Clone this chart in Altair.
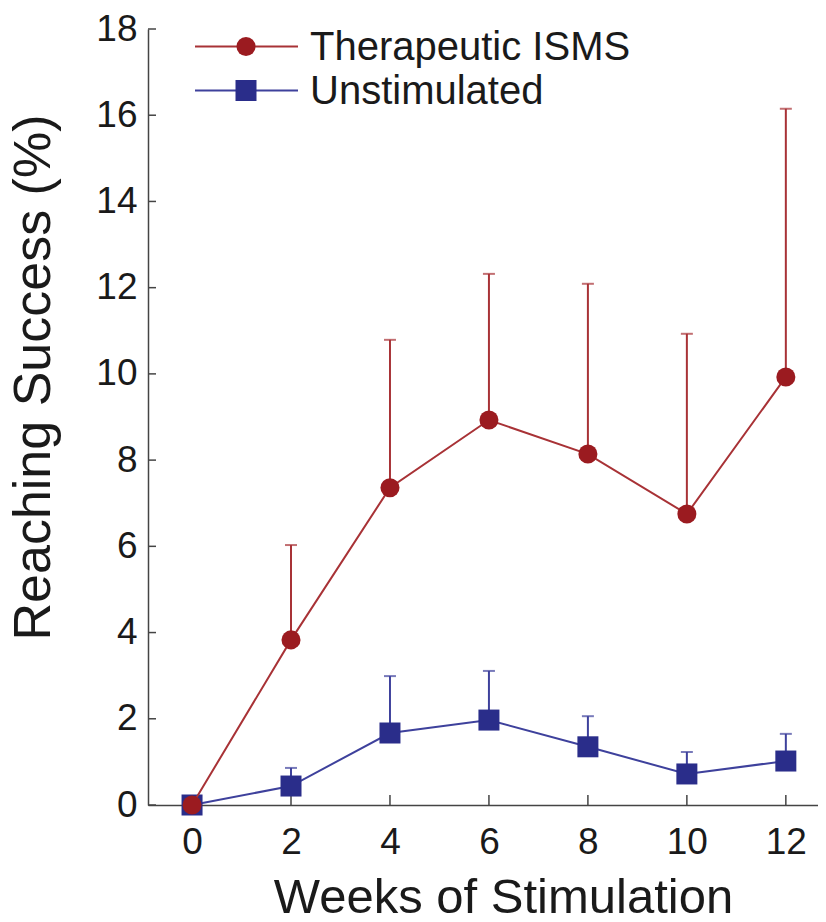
import altair as alt
import pandas as pd

weeks = [0, 2, 4, 6, 8, 10, 12]
isms_mean = [0.0, 3.83, 7.36, 8.93, 8.14, 6.75, 9.93]
isms_upper = [0.0, 6.03, 10.79, 12.32, 12.09, 10.93, 16.15]
unstim_mean = [0.0, 0.44, 1.67, 1.97, 1.35, 0.72, 1.02]
unstim_upper = [0.0, 0.86, 2.99, 3.11, 2.06, 1.23, 1.65]
x_ticks = [0, 2, 4, 6, 8, 10, 12]
y_ticks = [0, 2, 4, 6, 8, 10, 12, 14, 16, 18]
series_names = ["Therapeutic ISMS", "Unstimulated"]

RED = "#9b1b20"
RED_LINE = "#a83236"
BLUE = "#2a2d8a"
BLUE_LINE = "#3e419c"
FONT = "Liberation Sans"

W, H = 670, 776

isms = pd.DataFrame({"week": weeks, "mean": isms_mean, "upper": isms_upper})
unst = pd.DataFrame({"week": weeks, "mean": unstim_mean, "upper": unstim_upper})
isms_err = isms[isms["upper"] > isms["mean"]]
unst_err = unst[unst["upper"] > unst["mean"]]

xs = alt.Scale(domain=[-0.89, 12.65], nice=False, zero=False)
ys = alt.Scale(domain=[0, 18], nice=False)

xaxis = alt.Axis(
    title="Weeks of Stimulation", values=x_ticks, ticks=False, tickSize=0,
    labelFontSize=37, labelFont=FONT, labelColor="#1a1a1a",
    labelBaseline="alphabetic", labelPadding=48,
    titleFontSize=49, titleFont=FONT, titleFontWeight="normal", titleColor="#1a1a1a",
    titleX=355, titleY=107, titleBaseline="alphabetic", titleAlign="center",
    domainColor="#444444", domainWidth=1.5, grid=False,
)
yaxis = alt.Axis(
    title="Reaching Success (%)", values=y_ticks, ticks=False, tickSize=0,
    labelFontSize=37, labelFont=FONT, labelColor="#1a1a1a", labelPadding=11,
    titleFontSize=52, titleFont=FONT, titleFontWeight="normal", titleColor="#1a1a1a",
    titleX=-99, titleY=348, titleBaseline="alphabetic", titleAlign="center", titleAngle=-90,
    domainColor="#444444", domainWidth=1.5, grid=False,
)

def X(field):
    return alt.X(field, type="quantitative", scale=xs, axis=xaxis)

def Y(field):
    return alt.Y(field, type="quantitative", scale=ys, axis=yaxis)

def series_layers(df, err, line_color, mark_color, shape, size):
    rule = alt.Chart(err).mark_rule(color=line_color, strokeWidth=2).encode(
        x=X("week"), y=Y("mean"), y2="upper")
    cap = alt.Chart(err).mark_tick(color=line_color, orient="horizontal", size=12, thickness=2).encode(
        x=X("week"), y=Y("upper"))
    line = alt.Chart(df).mark_line(color=line_color, strokeWidth=2).encode(
        x=X("week"), y=Y("mean"))
    pts = alt.Chart(df).mark_point(shape=shape, filled=True, size=size, color=mark_color, opacity=1).encode(
        x=X("week"), y=Y("mean"))
    return [rule, cap, line, pts]

xt = alt.Chart(pd.DataFrame({"week": x_ticks})).mark_rule(color="#444444", strokeWidth=1.5).encode(
    x=X("week"), y=alt.value(H), y2=alt.value(H - 10))
yt = alt.Chart(pd.DataFrame({"mean": y_ticks})).mark_rule(color="#444444", strokeWidth=1.5).encode(
    y=Y("mean"), x=alt.value(0), x2=alt.value(8))

# legend (drawn manually)
leg = []
rows = [(17.5, RED_LINE, RED, "circle", 363), (61.5, BLUE_LINE, BLUE, "square", 441)]
for name, (ly, lc, mc, shp, sz) in zip(series_names, rows):
    one = pd.DataFrame({"a": [0]})
    leg.append(alt.Chart(one).mark_rule(color=lc, strokeWidth=2).encode(
        x=alt.value(47), x2=alt.value(150), y=alt.value(ly)))
    leg.append(alt.Chart(one).mark_point(shape=shp, filled=True, size=sz, color=mc, opacity=1).encode(
        x=alt.value(98), y=alt.value(ly)))
    leg.append(alt.Chart(one).mark_text(
        align="left", baseline="middle", fontSize=40, font=FONT, color="#1a1a1a", dy=1).encode(
        x=alt.value(162), y=alt.value(ly), text=alt.value(name)))

layers = [xt, yt]
layers += series_layers(unst, unst_err, BLUE_LINE, BLUE, "square", 441)
layers += series_layers(isms, isms_err, RED_LINE, RED, "circle", 363)
layers += leg

chart = alt.layer(*layers).properties(
    width=W, height=H,
    autosize=alt.AutoSizeParams(type="none"),
    padding={"left": 140, "top": 21, "right": 0, "bottom": 109},
).configure(background="white", view=alt.ViewConfig(stroke="transparent", strokeWidth=0))

chart.save("out.html", embed_options={"renderer": "svg", "actions": False})
